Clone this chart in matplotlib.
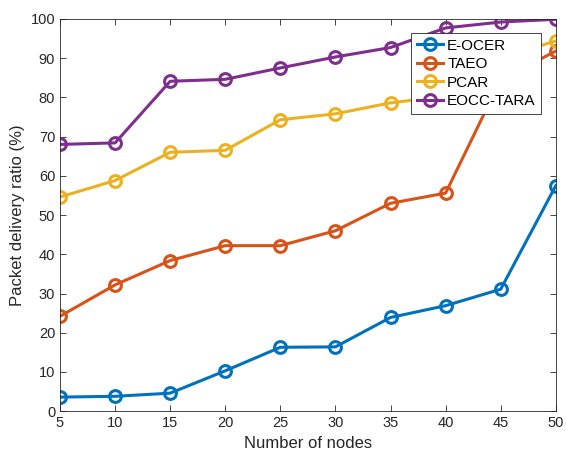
import numpy as np
import matplotlib
matplotlib.use('Agg')
import matplotlib.pyplot as plt

# data
nodes = [5, 10, 15, 20, 25, 30, 35, 40, 45, 50]
e_ocer = [3.6, 3.8, 4.6, 10.3, 16.3, 16.4, 23.9, 26.9, 31.1, 57.5]
taeo = [24.2, 32.2, 38.4, 42.2, 42.2, 46.0, 53.0, 55.6, 84.5, 91.8]
pcar = [54.6, 58.8, 66.0, 66.5, 74.3, 75.8, 78.6, 80.3, 90.0, 94.4]
eocc_tara = [68.0, 68.4, 84.1, 84.6, 87.5, 90.3, 92.7, 97.7, 99.2, 99.9]
labels = ['E-OCER', 'TAEO', 'PCAR', 'EOCC-TARA']
colors = ['#0072BD', '#D95319', '#EDB120', '#7E2F8E']

plt.rcParams['font.family'] = ['Liberation Sans', 'DejaVu Sans']

fig = plt.figure(figsize=(5.66, 4.61), dpi=100)
ax = fig.add_axes([0.106, 0.108, 0.876, 0.851])

for y, lab, c in zip([e_ocer, taeo, pcar, eocc_tara], labels, colors):
    ax.plot(nodes, y, '-o', color=c, label=lab, linewidth=2.2,
            markersize=8.5, markeredgewidth=2.2, markerfacecolor='none')

ax.set_xlim(5, 50)
ax.set_ylim(0, 100)
ax.set_xticks(np.arange(5, 51, 5))
ax.set_yticks(np.arange(0, 101, 10))
ax.tick_params(direction='in', top=True, right=True, labelsize=10.5,
               colors='#262626', length=4, width=0.6)
for s in ax.spines.values():
    s.set_color('#262626')
    s.set_linewidth(0.6)

ax.set_xlabel('Number of nodes', fontsize=12, color='#262626')
ax.set_ylabel('Packet delivery ratio (%)', fontsize=12, color='#262626')

leg = ax.legend(loc='upper right', bbox_to_anchor=(0.956, 0.928),
                bbox_transform=fig.transFigure, borderaxespad=0,
                fontsize=11, fancybox=False, framealpha=1,
                edgecolor='#262626', handlelength=1.7, labelspacing=0.3,
                borderpad=0.35, handletextpad=0.3)
leg.get_frame().set_linewidth(0.6)

fig.savefig('out.png', dpi=100)
